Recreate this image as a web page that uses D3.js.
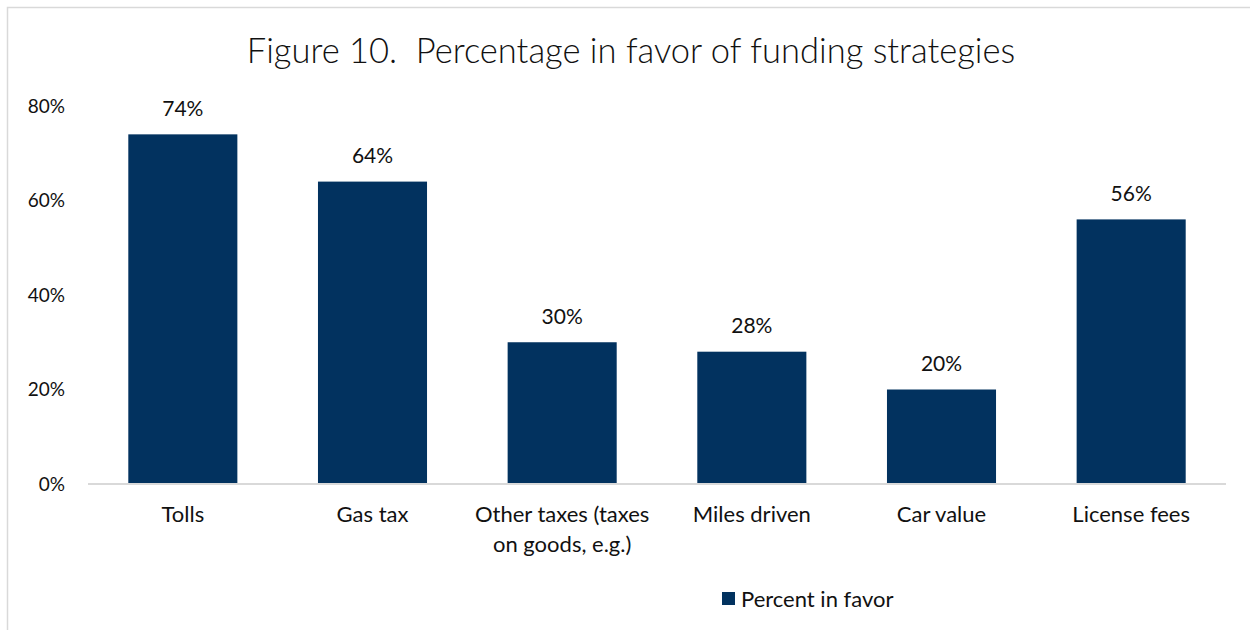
<!DOCTYPE html>
<html>
<head>
<meta charset="utf-8">
<script src="https://cdn.jsdelivr.net/npm/d3@7"></script>
<style>
  html, body { margin: 0; padding: 0; background: #fff; }
  svg { display: block; }
  text { font-family: Lato, "Open Sans", sans-serif; fill: #111; }
</style>
</head>
<body>
<svg id="chart" width="1250" height="630"></svg>
<script>
// Funding strategy survey results
const categories = ["Tolls", "Gas tax", "Other taxes (taxes\non goods, e.g.)", "Miles driven", "Car value", "License fees"];
const percentInFavor = [74, 64, 30, 28, 20, 56];
const yTicks = [0, 20, 40, 60, 80];
const seriesName = "Percent in favor";
const titleText = "Figure 10.  Percentage in favor of funding strategies";

const barColor = "#02325f";
const svg = d3.select("#chart");

// outer frame
svg.append("rect")
  .attr("x", 7.5).attr("y", 7.5)
  .attr("width", 1260).attr("height", 640)
  .attr("fill", "none").attr("stroke", "#d9d9d9").attr("stroke-width", 1.5);

const plot = { left: 88, right: 1226, top: 106, bottom: 484 };

const x = d3.scaleBand()
  .domain(categories)
  .range([plot.left, plot.right])
  .paddingInner(0.425)
  .paddingOuter(0.2125);

const y = d3.scaleLinear()
  .domain([0, 80])
  .range([plot.bottom, plot.top]);

// title (keeps the double space after the figure number)
svg.append("text")
  .attr("x", 631).attr("y", 63)
  .attr("text-anchor", "middle")
  .attr("font-size", 34.5)
  .attr("font-weight", 300)
  .style("white-space", "pre")
  .text(titleText);

// y axis labels
const yAxis = d3.axisLeft(y)
  .tickValues(yTicks)
  .tickFormat(d => d + "%")
  .tickSize(0)
  .tickPadding(0);
const yG = svg.append("g")
  .attr("transform", `translate(65,0)`)
  .call(yAxis);
yG.select(".domain").remove();
yG.selectAll("text").attr("font-size", 19).attr("fill", "#111")
  .style("font-family", "Lato, 'Open Sans', sans-serif");

// bars
svg.append("g").selectAll("rect")
  .data(categories)
  .join("rect")
  .attr("x", d => x(d))
  .attr("width", x.bandwidth())
  .attr("y", (d, i) => y(percentInFavor[i]))
  .attr("height", (d, i) => y(0) - y(percentInFavor[i]))
  .attr("fill", barColor);

// baseline
const xAxis = d3.axisBottom(x).tickSize(0).tickFormat("");
const xG = svg.append("g")
  .attr("transform", `translate(0,${plot.bottom})`)
  .call(xAxis);
xG.select(".domain").attr("stroke", "#d9d9d9").attr("stroke-width", 2)
  .attr("d", `M${plot.left},0H${plot.right}`);

// category labels (multi-line)
svg.append("g").selectAll("text")
  .data(categories)
  .join("text")
  .attr("x", d => x(d) + x.bandwidth() / 2)
  .attr("y", 522)
  .attr("text-anchor", "middle")
  .attr("font-size", 22)
  .each(function (d) {
    const t = d3.select(this);
    d.split("\n").forEach((line, k) => {
      t.append("tspan")
        .attr("x", x(d) + x.bandwidth() / 2)
        .attr("dy", k === 0 ? 0 : 30)
        .text(line);
    });
  });

// value labels
svg.append("g").selectAll("text")
  .data(categories)
  .join("text")
  .attr("x", d => x(d) + x.bandwidth() / 2)
  .attr("y", (d, i) => y(percentInFavor[i]) - 18.5)
  .attr("text-anchor", "middle")
  .attr("font-size", 21)
  .text((d, i) => percentInFavor[i] + "%");

// legend
const legend = svg.append("g").attr("transform", "translate(722,592)");
legend.append("rect").attr("width", 13).attr("height", 13).attr("fill", barColor);
legend.append("text")
  .attr("x", 19).attr("y", 14.5)
  .attr("font-size", 22)
  .text(seriesName);
</script>
</body>
</html>
